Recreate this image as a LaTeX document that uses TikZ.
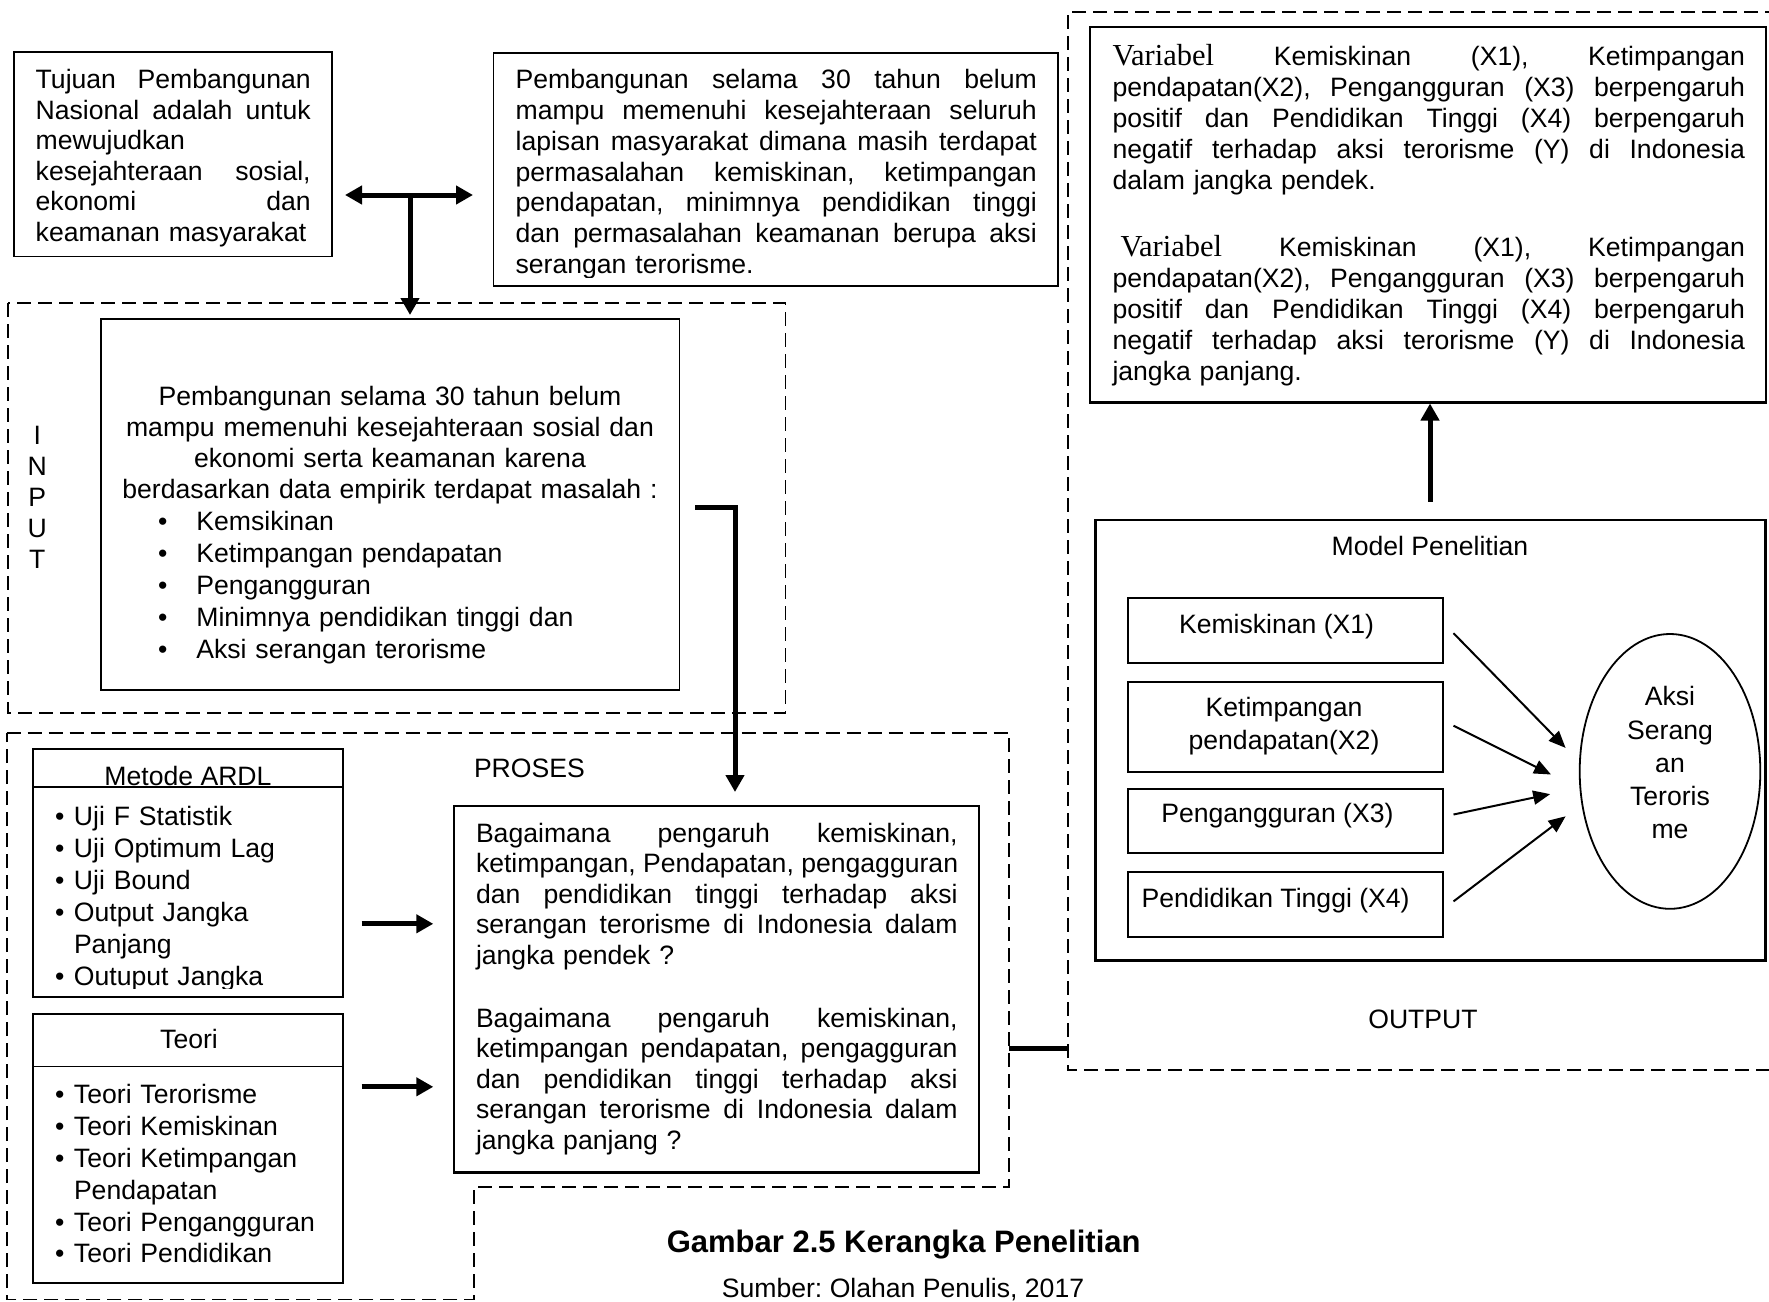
\documentclass[tikz,border=0pt]{standalone}
\usepackage{fontspec}
\setmainfont{Liberation Sans}
\newfontfamily\tms{Liberation Serif}
\usetikzlibrary{arrows.meta,shapes.geometric}
\newcommand\jl[1]{\makebox[\hsize][s]{\spaceskip=\fontdimen2\font plus 1000pt\xspaceskip=\spaceskip\relax #1}\\}
\newcommand\bl[2]{\makebox[#1][l]{\textbullet}#2}
\newcommand\bodyfont[1]{\fontsize{26.6pt}{#1pt}\selectfont}
\begin{document}
\frenchspacing
\begin{tikzpicture}[x=1pt,y=-1pt,
  >={Triangle[length=17pt,width=18pt]},
  box/.style={draw, line width=1.8pt, inner sep=0pt, outer sep=0pt, anchor=north west},
  boxb/.style={box, line width=2.2pt},
  txt/.style={inner sep=0pt, outer sep=0pt, anchor=north west},
  ctxt/.style={inner sep=0pt, outer sep=0pt, anchor=north},
  lbl/.style={inner sep=0pt, outer sep=0pt, anchor=base west, font=\bodyfont{30.6}},
  clbl/.style={inner sep=0pt, outer sep=0pt, anchor=base, font=\bodyfont{30.6}},
  dashbox/.style={line width=1.8pt, dash pattern=on 14pt off 7pt},
  bigline/.style={line width=5pt},
  thinarrow/.style={line width=2pt, -{Triangle[length=17pt,width=14pt]}}]
\useasboundingbox (0,0) rectangle (1769,1301);
\fill[white] (0,0) rectangle (1769,1301);

% ---------- top-left box ----------
\node[box, minimum width=318pt, minimum height=204.5pt] (tujuan) at (14,52) {};
\node[txt, text width=275pt, font=\bodyfont{30.6}] (tujuanT) at (35.7,67.1)
 {\strut\jl{Tujuan Pembangunan}\jl{Nasional adalah untuk}mewujudkan\\\jl{kesejahteraan sosial,}\jl{ekonomi dan}keamanan masyarakat};

% ---------- top-middle box ----------
\node[box, minimum width=564.6pt, minimum height=233pt] (pemb) at (493.4,53.3) {};
\begin{scope}
\clip (493,53) rectangle (1058,277);
\node[txt, text width=521.2pt, font=\bodyfont{30.7}] (pembT) at (515.6,67.5)
 {\strut\jl{Pembangunan selama 30 tahun belum}\jl{mampu memenuhi kesejahteraan seluruh}\jl{lapisan masyarakat dimana masih terdapat}\jl{permasalahan kemiskinan, ketimpangan}\jl{pendapatan, minimnya pendidikan tinggi}\jl{dan permasalahan keamanan berupa aksi}serangan terorisme.};
\end{scope}

% double arrow and T
\coordinate (dL) at (345,195);
\coordinate (dR) at (473,195);
\coordinate (dJ) at (410,195);
\coordinate (dD) at (410,315);
\draw[bigline,<->] (dL) -- (dR);
\draw[bigline,->] (dJ) -- (dD);

% ---------- INPUT ----------
\draw[dashbox] (7.7,303.3) rectangle (785.5,713);
\node[txt, text width=20pt, font=\bodyfont{31}] (inputL) at (27.2,422.8)
 {\centering\strut I\\N\\P\\U\\T\par};
\node[box, minimum width=578.5pt, minimum height=370.7pt] (inbox) at (101,319.3) {};
\node[ctxt, text width=570pt, font=\bodyfont{31}] (inT) at (390,383.3)
 {\centering\strut Pembangunan selama 30 tahun belum\\mampu memenuhi kesejahteraan sosial dan\\ekonomi serta keamanan karena\\berdasarkan data empirik terdapat masalah :\par};
\node[txt, text width=450pt, font=\bodyfont{32}] (inList) at (158,508.1)
 {\strut\bl{38.4pt}{Kemsikinan}\\\bl{38.4pt}{Ketimpangan pendapatan}\\\bl{38.4pt}{Pengangguran}\\\bl{38.4pt}{Minimnya pendidikan tinggi dan}\\\bl{38.4pt}{Aksi serangan terorisme}};

\coordinate (c1) at (695,507);
\coordinate (c2) at (735,792);
\draw[bigline,->] (c1) -| (c2);

% ---------- PROSES ----------
\draw[dashbox] (6.7,733) -- (1009.3,733) -- (1009.3,1187) -- (474,1187) -- (474,1299.5) -- (6.7,1299.5) -- cycle;
\node[lbl] (prosesL) at (474,777.5) {PROSES};

\node[box, minimum width=309.4pt, minimum height=248pt] (metode) at (33.3,749) {};
\draw[line width=1.8pt] (33.3,786.7) -- (342.7,786.7);
\node[clbl] (metodeT) at (188,785) {Metode ARDL};
\begin{scope}
\clip (34,788) rectangle (342,988.5);
\node[txt, text width=280pt, font=\bodyfont{32}] (metodeL) at (55,802.6)
 {\strut\bl{19pt}{Uji F Statistik}\\\bl{19pt}{Uji Optimum Lag}\\\bl{19pt}{Uji Bound}\\\bl{19pt}{Output Jangka}\\\hspace*{19pt}Panjang\\\bl{19pt}{Outuput Jangka}};
\end{scope}

\node[box, minimum width=309.4pt, minimum height=269.5pt] (teori) at (33.3,1013.8) {};
\draw[line width=1.8pt] (33.3,1066.4) -- (342.7,1066.4);
\node[clbl] (teoriT) at (189,1048) {Teori};
\node[txt, text width=280pt, font=\bodyfont{31.8}] (teoriL) at (55,1081.7)
 {\strut\bl{19pt}{Teori Terorisme}\\\bl{19pt}{Teori Kemiskinan}\\\bl{19pt}{Teori Ketimpangan}\\\hspace*{19pt}Pendapatan\\\bl{19pt}{Teori Pengangguran}\\\bl{19pt}{Teori Pendidikan}};

\coordinate (a1s) at (361.7,923.8);
\coordinate (a1e) at (433.3,923.8);
\coordinate (a2s) at (361.7,1086.8);
\coordinate (a2e) at (433.3,1086.8);
\draw[bigline,->] (a1s) -- (a1e);
\draw[bigline,->] (a2s) -- (a2e);

\node[boxb, minimum width=525pt, minimum height=366.5pt] (rq) at (454,806) {};
\node[txt, text width=481.6pt, font=\bodyfont{30.6}] (rq1) at (476,820.6)
 {\strut\jl{Bagaimana pengaruh kemiskinan,}\jl{ketimpangan, Pendapatan, pengagguran}\jl{dan pendidikan tinggi terhadap aksi}\jl{serangan terorisme di Indonesia dalam}jangka pendek ?};
\node[txt, text width=481.6pt, font=\bodyfont{30.6}] (rq2) at (476,1005.6)
 {\strut\jl{Bagaimana pengaruh kemiskinan,}\jl{ketimpangan pendapatan, pengagguran}\jl{dan pendidikan tinggi terhadap aksi}\jl{serangan terorisme di Indonesia dalam}jangka panjang ?};

\coordinate (pc1) at (1009.3,1048.3);
\coordinate (pc2) at (1068.3,1048.3);
\draw[bigline] (pc1) -- (pc2);

% ---------- caption ----------
\node[inner sep=0pt, anchor=base, font=\bfseries\fontsize{31pt}{36pt}\selectfont] (cap) at (903.7,1252) {Gambar 2.5 Kerangka Penelitian};
\node[clbl] (src) at (903,1297.5) {Sumber: Olahan Penulis, 2017};

% ---------- OUTPUT ----------
\draw[dashbox] (1800,11.7) -- (1068.3,11.7) -- (1068.3,1070) -- (1800,1070);
\node[boxb, minimum width=676pt, minimum height=375.8pt] (hyp) at (1090,26.7) {};
\node[txt, text width=632.5pt, font=\bodyfont{31}] (hyp1) at (1112.5,43.3)
 {\strut\jl{{\tms\fontsize{30.5pt}{31pt}\selectfont Variabel} Kemiskinan (X1), Ketimpangan}\jl{pendapatan(X2), Pengangguran (X3) berpengaruh}\jl{positif dan Pendidikan Tinggi (X4) berpengaruh}\jl{negatif terhadap aksi terorisme (Y) di Indonesia}dalam jangka pendek.};
\node[txt, text width=632.5pt, font=\bodyfont{31}] (hyp2) at (1112.5,234.3)
 {\strut\jl{\hspace*{8pt}{\tms\fontsize{30.5pt}{31pt}\selectfont Variabel} Kemiskinan (X1), Ketimpangan}\jl{pendapatan(X2), Pengangguran (X3) berpengaruh}\jl{positif dan Pendidikan Tinggi (X4) berpengaruh}\jl{negatif terhadap aksi terorisme (Y) di Indonesia}jangka panjang.};

\coordinate (u1) at (1430,501.7);
\coordinate (u2) at (1430,403.5);
\draw[bigline,->] (u1) -- (u2);

\node[boxb, minimum width=670.1pt, minimum height=440.5pt] (model) at (1095.4,520) {};
\node[clbl] (modelT) at (1430,555) {Model Penelitian};

\node[box, minimum width=314.7pt, minimum height=64.8pt] (x1) at (1128.3,598) {};
\node[box, minimum width=314.7pt, minimum height=90pt] (x2) at (1128.3,682) {};
\node[box, minimum width=314.7pt, minimum height=64.7pt] (x3) at (1128.3,788.6) {};
\node[box, minimum width=314.7pt, minimum height=64.8pt] (x4) at (1128.3,871.8) {};
\node[lbl] (x1T) at (1179,633) {Kemiskinan (X1)};
\node[ctxt, text width=300pt, font=\bodyfont{33.3}] (x2T) at (1284,693.1) {\centering\strut Ketimpangan\\pendapatan(X2)\par};
\node[lbl] (x3T) at (1161.3,822) {Pengangguran (X3)};
\node[lbl] (x4T) at (1141.5,907) {Pendidikan Tinggi (X4)};

\node[draw, ellipse, line width=1.8pt, inner sep=0pt, minimum width=180.6pt, minimum height=274.8pt] (aksi) at (1670,771.4) {};
\node[ctxt, text width=170pt, font=\bodyfont{33.2}] (aksiT) at (1670,682.7) {\centering\strut Aksi\\Serang\\an\\Teroris\\me\par};

\coordinate (m1s) at (1453.5,633.2);
\coordinate (m1e) at (1565.6,747.9);
\coordinate (m2s) at (1453.5,725.7);
\coordinate (m2e) at (1551,774.5);
\coordinate (m3s) at (1453.5,814.5);
\coordinate (m3e) at (1550.2,794.1);
\coordinate (m4s) at (1453.5,901.4);
\coordinate (m4e) at (1565.6,816.3);
\draw[thinarrow] (m1s) -- (m1e);
\draw[thinarrow] (m2s) -- (m2e);
\draw[thinarrow] (m3s) -- (m3e);
\draw[thinarrow] (m4s) -- (m4e);

\node[lbl] (outL) at (1368.3,1028) {OUTPUT};
\end{tikzpicture}
\end{document}
